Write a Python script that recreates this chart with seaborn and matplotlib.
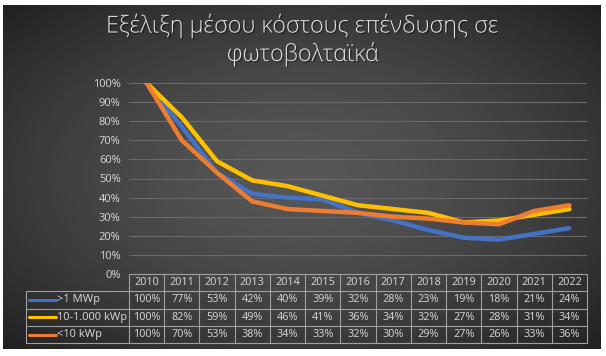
import numpy as np
import pandas as pd
import matplotlib
matplotlib.use("Agg")
import matplotlib.pyplot as plt
import matplotlib.transforms as mtransforms
import matplotlib.patheffects as pe
import seaborn as sns

years = [2010, 2011, 2012, 2013, 2014, 2015, 2016, 2017, 2018, 2019, 2020, 2021, 2022]
series_names = [">1 MWp", "10-1.000 kWp", "<10 kWp"]
mwp = [100, 77, 53, 42, 40, 39, 32, 28, 23, 19, 18, 21, 24]
kwp_mid = [100, 82, 59, 49, 46, 41, 36, 34, 32, 27, 28, 31, 34]
kwp_small = [100, 70, 53, 38, 34, 33, 32, 30, 29, 27, 26, 33, 36]
colors = ["#4472C4", "#FFC000", "#ED7D31"]
title = "Εξέλιξη μέσου κόστους επένδυσης σε\nφωτοβολταϊκά"

sns.set_theme(style="dark")
plt.rcParams["font.family"] = ["Noto Sans", "DejaVu Sans"]

W, H = 606, 356
fig = plt.figure(figsize=(W / 100, H / 100), dpi=100, facecolor="white")

# background with radial gradient
bg = fig.add_axes([3 / W, 1 - 349 / H, 598 / W, 344 / H])
yy, xx = np.mgrid[0:1:200j, 0:1:300j]
r = np.sqrt(((xx - 0.5) / 0.75) ** 2 + ((yy - 0.5) / 0.75) ** 2)
val = 0.34 - 0.23 * np.clip(r, 0, 1) ** 1.5
bg.imshow(val, cmap="gray", vmin=0, vmax=1, aspect="auto", extent=[0, 1, 0, 1])
bg.set_axis_off()

left, right = 129 / W, 587 / W
top, bottom = 1 - 83 / H, 1 - 274 / H
ax = fig.add_axes([left, bottom, right - left, top - bottom])
ax.patch.set_alpha(0)

df = pd.DataFrame({
    "year": years * 3,
    "value": [v / 100 for v in mwp + kwp_mid + kwp_small],
    "series": [series_names[0]] * 13 + [series_names[1]] * 13 + [series_names[2]] * 13,
})
sns.lineplot(data=df, x="year", y="value", hue="series", palette=colors,
             hue_order=series_names, linewidth=3.2, legend=False, ax=ax,
             solid_capstyle="round")

ax.set_xlim(years[0] - 0.5, years[-1] + 0.5)
ax.set_ylim(0, 1.0)
ax.set_yticks(np.arange(0, 1.01, 0.1))
ax.set_yticklabels([f"{int(round(t * 100))}%" for t in np.arange(0, 1.01, 0.1)],
                   color="#d0d0d0", fontsize=8)
ax.tick_params(axis="y", length=0, pad=6)
ax.set_xticks([])
ax.set_xlabel("")
ax.set_ylabel("")
ax.grid(axis="y", color="#6a6a6a", linewidth=0.8)
ax.grid(axis="x", visible=False)
for s in ax.spines.values():
    s.set_visible(False)

fig.text(0.5, 1 - 40 / H, title, ha="center", va="center", color="#e4e4e4",
         fontsize=16.8, family=["Open Sans", "Noto Sans", "DejaVu Sans"],
         fontweight="light", linespacing=1.15,
         path_effects=[pe.withSimplePatchShadow(offset=(1, -1), shadow_rgbFace="black", alpha=0.4)])

# data table
tr = mtransforms.blended_transform_factory(ax.transData, fig.transFigure)
trf = fig.transFigure
row_edges_px = [274, 291, 308.5, 326, 343]
row_edges = [1 - p / H for p in row_edges_px]
gc = "#a0a0a0"
lw = 0.8
x0 = years[0] - 0.5
x1 = years[-1] + 0.5
legend_left = 25.7 / W
ax.plot([x0, x1], [row_edges[0]] * 2, transform=tr, color=gc, lw=lw, clip_on=False)
for yv in row_edges[1:]:
    ax.plot([x0, x1], [yv, yv], transform=tr, color=gc, lw=lw, clip_on=False)
    ax.plot([legend_left, left], [yv, yv], transform=trf, color=gc, lw=lw, clip_on=False)
for i in range(len(years) + 1):
    xv = years[0] - 0.5 + i
    ax.plot([xv, xv], [row_edges[0], row_edges[-1]], transform=tr, color=gc, lw=lw, clip_on=False)
ax.plot([legend_left, legend_left], [row_edges[1], row_edges[-1]], transform=trf,
        color=gc, lw=lw, clip_on=False)

tc = "#d0d0d0"
for i, yr in enumerate(years):
    ax.text(yr, (row_edges[0] + row_edges[1]) / 2, str(yr), transform=tr,
            ha="center", va="center", color=tc, fontsize=7.8)
for r_i, (name, vals, col) in enumerate(zip(series_names, [mwp, kwp_mid, kwp_small], colors)):
    yc = (row_edges[r_i + 1] + row_edges[r_i + 2]) / 2
    for yr, v in zip(years, vals):
        ax.text(yr, yc, f"{v}%", transform=tr, ha="center", va="center",
                color=tc, fontsize=7.8)
    ax.plot([29 / W, 56 / W], [yc, yc], transform=trf, color=col, lw=2.2,
            clip_on=False, solid_capstyle="round")
    ax.text(57 / W, yc, name, transform=trf, ha="left", va="center",
            color=tc, fontsize=8)

fig.savefig("out.png", dpi=100, facecolor="white")
